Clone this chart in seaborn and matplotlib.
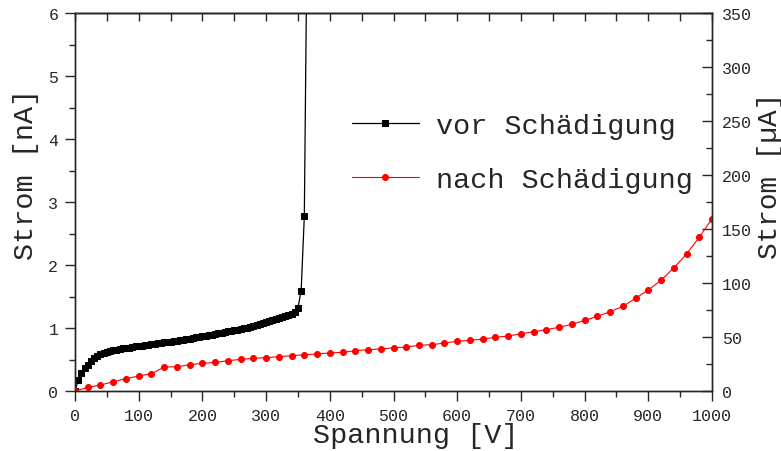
import matplotlib
matplotlib.use("Agg")
import matplotlib.pyplot as plt
from matplotlib.ticker import MultipleLocator
import seaborn as sns

# vor Schädigung: Strom in nA, alle 5 V bis zum Durchbruch
spannung_vor = list(range(0, 370, 5))
strom_vor = [0.0, 0.17, 0.28, 0.36, 0.42, 0.47, 0.52, 0.55, 0.58, 0.60,
             0.62, 0.635, 0.645, 0.655, 0.665, 0.675, 0.685, 0.69, 0.70, 0.71,
             0.715, 0.72, 0.73, 0.735, 0.74, 0.75, 0.755, 0.76, 0.77, 0.78,
             0.785, 0.79, 0.80, 0.81, 0.815, 0.82, 0.83, 0.84, 0.85, 0.86,
             0.87, 0.875, 0.885, 0.895, 0.905, 0.915, 0.925, 0.935, 0.945, 0.955,
             0.965, 0.975, 0.985, 0.995, 1.005, 1.02, 1.03, 1.045, 1.06, 1.075,
             1.09, 1.105, 1.12, 1.14, 1.155, 1.175, 1.19, 1.21, 1.23, 1.26,
             1.32, 1.59, 2.77, 8.0]

# nach Schädigung: Strom in µA, alle 20 V
spannung_nach = list(range(0, 1020, 20))
strom_nach = [0.0, 3.4, 5.5, 8.6, 11.4, 13.9, 16.0, 22.2, 22.4, 24.4,
              25.6, 26.5, 28.0, 29.3, 30.2, 30.9, 31.8, 32.7, 33.6, 34.3,
              35.2, 35.8, 37.3, 38.3, 38.9, 40.0, 40.7, 42.3, 42.9, 44.4,
              46.0, 46.9, 48.1, 49.7, 50.9, 53.0, 54.9, 56.8, 59.0, 61.7,
              65.4, 69.1, 73.5, 78.4, 85.8, 93.5, 102.5, 113.9, 126.9, 142.3,
              159.5]

sns.set_style("ticks")
plt.rcParams['font.family'] = ['Liberation Mono', 'DejaVu Sans Mono']
plt.rcParams['axes.linewidth'] = 1.0

fig = plt.figure(figsize=(7.81, 4.52), dpi=100)
ax = fig.add_axes([75 / 781, 1 - 392 / 452, 637 / 781, 378 / 452])
ax2 = ax.twinx()

sns.lineplot(x=spannung_vor, y=strom_vor, ax=ax, color='black', marker='s',
             markersize=5, markeredgecolor='black', linewidth=0.9, label='vor Schädigung')
sns.lineplot(x=spannung_nach, y=strom_nach, ax=ax2, color='red', marker='o',
             markersize=4.3, markeredgecolor='red', linewidth=0.8, label='nach Schädigung')

for a in (ax, ax2):
    if a.get_legend() is not None:
        a.get_legend().remove()

ax.set_xlim(0, 1000)
ax.set_ylim(0, 6)
ax2.set_ylim(0, 350)

ax.xaxis.set_major_locator(MultipleLocator(100))
ax.xaxis.set_minor_locator(MultipleLocator(50))
ax.yaxis.set_major_locator(MultipleLocator(1))
ax.yaxis.set_minor_locator(MultipleLocator(0.5))
ax2.yaxis.set_major_locator(MultipleLocator(50))
ax2.yaxis.set_minor_locator(MultipleLocator(25))

ax.tick_params(axis='both', which='major', direction='out', length=7, width=1,
               labelsize=12, pad=5)
ax.tick_params(axis='both', which='minor', direction='out', length=4, width=1)
ax2.tick_params(axis='y', which='major', direction='in', length=7, width=1,
                labelsize=12, pad=7)
ax2.tick_params(axis='y', which='minor', direction='in', length=4, width=1)

top = ax.secondary_xaxis('top')
top.xaxis.set_major_locator(MultipleLocator(50))
top.tick_params(axis='x', direction='in', length=6, width=1, labeltop=False)

ax.set_xlabel('Spannung [V]', fontsize=20.5)
ax.set_ylabel('Strom [nA]', fontsize=20.5)
ax2.set_ylabel('Strom [µA]', fontsize=20)
ax.xaxis.set_label_coords(416 / 781, 1 - 423 / 452, transform=fig.transFigure)
ax.yaxis.set_label_coords(39 / 781, 1 - 174 / 452, transform=fig.transFigure)
ax2.yaxis.set_label_coords(757 / 781, 1 - 176 / 452, transform=fig.transFigure)

handles = ax.get_lines()[:1] + ax2.get_lines()[:1]
ax2.legend(handles, ['vor Schädigung', 'nach Schädigung'], loc='center left',
           bbox_to_anchor=(352 / 781, 1 - 154 / 452), bbox_transform=fig.transFigure,
           frameon=False, fontsize=20.5, handlelength=2.35, handletextpad=0.6,
           labelspacing=1.0, borderpad=0, borderaxespad=0, numpoints=1)

fig.savefig('out.png', dpi=100)
